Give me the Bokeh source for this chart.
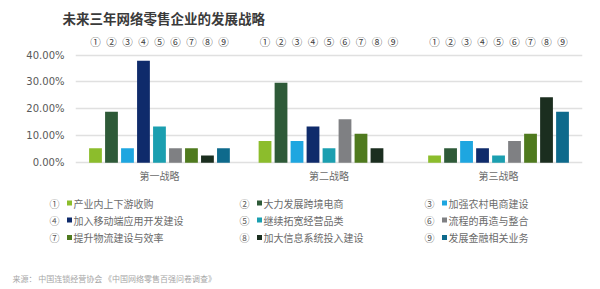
from bokeh.plotting import figure
from bokeh.layouts import column
from bokeh.models import ColumnDataSource, FactorRange, Range1d, FixedTicker, PrintfTickFormatter
from bokeh.core.properties import value
from bokeh.embed import file_html
from bokeh.resources import INLINE

# ---- data ----
groups = ["第一战略", "第二战略", "第三战略"]
nums = ["①", "②", "③", "④", "⑤", "⑥", "⑦", "⑧", "⑨"]
strategies = ["产业内上下游收购", "大力发展跨境电商", "加强农村电商建设",
              "加入移动端应用开发建设", "继续拓宽经营品类", " 流程的再造与整合",
              "提升物流建设与效率", "加大信息系统投入建设", "发展金融相关业务"]
colors = ["#8cbd2c", "#2e5a38", "#1ea6e0", "#0f2b6b", "#1b9fb0",
          "#7f8083", "#4f7a1e", "#1b2e1f", "#0e6a8c"]
first = [5.41, 18.92, 5.41, 37.84, 13.51, 5.41, 5.41, 2.70, 5.41]
second = [8.11, 29.73, 8.11, 13.51, 5.41, 16.22, 10.81, 5.41, 0.0]
third = [2.70, 5.41, 8.11, 5.41, 2.70, 8.11, 10.81, 24.32, 18.92]
y_ticks = [0, 10, 20, 30, 40]
title_text = "未来三年网络零售企业的发展战略"
source_text = "来源： 中国连锁经营协会 《中国网络零售百强问卷调查》"

CJK = "Noto Sans CJK SC"
W = 600
TITLE_H, MAIN_H, LEG_H = 30, 160, 99


def no_align(f):
    try:
        f.frame_align = False
    except AttributeError:
        pass


def blank(h):
    f = figure(width=W, height=h, x_range=Range1d(0, W), y_range=Range1d(h, 0),
               output_backend="svg", toolbar_location=None,
               x_axis_type=None, y_axis_type=None,
               min_border=0, min_border_left=0, min_border_right=0,
               min_border_top=0, min_border_bottom=0)
    f.outline_line_color = None
    f.grid.visible = False
    no_align(f)
    return f


# ---- title strip ----
t = blank(TITLE_H)
t.text(x=[62], y=[17], text=[title_text], text_baseline="middle",
       text_font=value(CJK), text_font_size="13.5px", text_font_style="bold",
       text_color="#3a3a3a")

# ---- main chart ----
series = [first, second, third]
factors = [(g, n) for g in groups for n in nums]
tops = [v for s in series for v in s]
bar_colors = colors * len(groups)
src = ColumnDataSource(dict(x=factors, top=tops, color=bar_colors))

xr = FactorRange(*factors, group_padding=1.6, range_padding=0.75,
                 range_padding_units="absolute")
p = figure(width=W, height=MAIN_H, x_range=xr, y_range=Range1d(-8.4, 49.1),
           output_backend="svg", toolbar_location=None,
           min_border_left=75, min_border_right=18,
           min_border_top=0, min_border_bottom=5)
p.outline_line_color = None
no_align(p)

p.vbar(x="x", top="top", width=0.8, fill_color="color", line_color=None, source=src)

num_src = ColumnDataSource(dict(x=factors, y=[45.0] * len(factors),
                                t=[f[1] for f in factors]))
p.text(x="x", y="y", text="t", source=num_src, text_align="center",
       text_baseline="middle", text_font=value(CJK), text_font_size="10.5px",
       text_color="#404040")

g_src = ColumnDataSource(dict(x=[(g, nums[4]) for g in groups],
                              y=[-4.8] * len(groups), t=groups))
p.text(x="x", y="y", text="t", source=g_src, text_align="center",
       text_baseline="middle", text_font=value(CJK), text_font_size="10px",
       text_color="#6b6b6b")

p.xaxis.visible = False
p.xgrid.visible = False
p.yaxis.ticker = FixedTicker(ticks=y_ticks)
p.yaxis.formatter = PrintfTickFormatter(format="%.2f%%")
p.yaxis.axis_line_color = None
p.yaxis.major_tick_line_color = None
p.yaxis.minor_tick_line_color = None
p.yaxis.major_tick_out = 0
p.yaxis.major_label_standoff = 11
p.yaxis.major_label_text_font = "DejaVu Sans"
p.yaxis.major_label_text_font_size = "10px"
p.yaxis.major_label_text_color = "#595959"
p.ygrid.ticker = FixedTicker(ticks=y_ticks)
p.ygrid.grid_line_color = "#e0e0e0"
p.ygrid.grid_line_width = 1.5

# ---- legend + source ----
lg = blank(LEG_H)
col_x = [54, 244, 429]
row_y = [12.5, 29.5, 47]
nx = [col_x[i % 3] for i in range(len(nums))]
ny = [row_y[i // 3] for i in range(len(nums))]
lg.text(x=nx, y=ny, text=nums, text_align="center", text_baseline="middle",
        text_font=value(CJK), text_font_size="10px", text_color="#595959")
lg.scatter(x=[v + 15 for v in nx], y=ny, marker="square", size=5,
           fill_color=colors, line_color=None)
lg.text(x=[v + 19 for v in nx], y=ny, text=strategies, text_baseline="middle",
        text_font=value(CJK), text_font_size="10px", text_color="#6b6b6b")
lg.text(x=[12], y=[88], text=[source_text], text_baseline="middle",
        text_font=value(CJK), text_font_size="8px", text_color="#a6a6a6")

layout = column(t, p, lg, spacing=0)
open("out.html", "w").write(file_html(layout, INLINE))
